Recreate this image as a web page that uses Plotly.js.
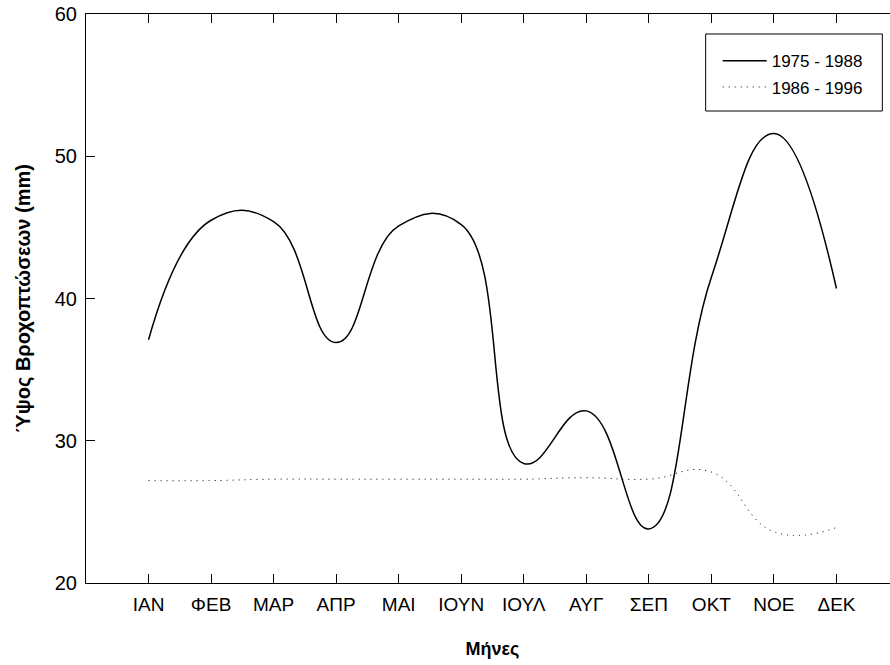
<!DOCTYPE html>
<html>
<head>
<meta charset="utf-8">
<script src="https://cdn.plot.ly/plotly-3.0.1.min.js"></script>
<style>
html,body{margin:0;padding:0;overflow:hidden;background:#fff;}
#chart{width:900px;height:665px;}
</style>
</head>
<body>
<div id="chart"></div>
<script>
const months = ['ΙΑΝ','ΦΕΒ','ΜΑΡ','ΑΠΡ','ΜΑΙ','ΙΟΥΝ','ΙΟΥΛ','ΑΥΓ','ΣΕΠ','ΟΚΤ','ΝΟΕ','ΔΕΚ'];
const series1Name = '1975 - 1988';
const series1 = [37.1, 45.5, 45.4, 36.9, 45.1, 45.2, 28.4, 32.1, 23.8, 41.5, 51.6, 40.7];
const series2Name = '1986 - 1996';
const series2 = [27.2, 27.2, 27.3, 27.3, 27.3, 27.3, 27.3, 27.4, 27.3, 27.8, 23.6, 23.9];
const yTicks = [20, 30, 40, 50, 60];

const font = 'Liberation Sans, Arial, sans-serif';

const traces = [
  {x: months, y: series1, name: series1Name, type: 'scatter', mode: 'lines',
   line: {color: '#000', width: 1.5, shape: 'spline', smoothing: 1.3}, legendgroup: 'a'},
  {x: months, y: series2, name: series2Name, type: 'scatter', mode: 'lines',
   line: {color: '#000', width: 1, shape: 'spline', smoothing: 1.3, dash: '1px,5px'}, legendgroup: 'b'}
];

const layout = {
  width: 900, height: 665,
  margin: {l: 86, r: 1, t: 14, b: 82},
  paper_bgcolor: '#fff', plot_bgcolor: '#fff',
  font: {family: font, color: '#000', size: 18},
  showlegend: true,
  legend: {x: 0.777, y: 0.9485, xanchor: 'left', yanchor: 'top',
           borderwidth: 0, bgcolor: 'rgba(0,0,0,0)',
           font: {family: font, size: 17, color: '#000'},
           itemwidth: 44,
           traceorder: 'grouped', tracegroupgap: 1},
  shapes: [{type: 'rect', xref: 'paper', yref: 'paper',
            x0: 0.7622, x1: 0.9795, y0: 0.8295, y1: 0.9649,
            line: {color: '#000', width: 1}, fillcolor: 'rgba(0,0,0,0)'}],
  xaxis: {type: 'category', range: [-1, 12], showgrid: false, zeroline: false,
          showline: true, linecolor: '#000', linewidth: 1, mirror: 'ticks',
          ticks: 'inside', ticklen: 9, tickcolor: '#000', tickwidth: 1,
          ticklabelstandoff: 4,
          tickfont: {family: font, size: 19, color: '#000'},
          title: {text: '<b>Μήνες</b>', font: {family: font, size: 18, color: '#000'}, standoff: 28}},
  yaxis: {range: [20, 60], tickvals: yTicks, showgrid: false, zeroline: false,
          showline: true, linecolor: '#000', linewidth: 1, mirror: 'ticks',
          ticks: 'inside', ticklen: 9, tickcolor: '#000', tickwidth: 1,
          ticklabelstandoff: 4,
          tickfont: {family: font, size: 20, color: '#000'},
          title: {text: '<b>Ύψος Βροχοπτώσεων (mm)</b>', font: {family: font, size: 20, color: '#000'}, standoff: 18}}
};

Plotly.newPlot('chart', traces, layout, {displayModeBar: false, staticPlot: true});
</script>
</body>
</html>
